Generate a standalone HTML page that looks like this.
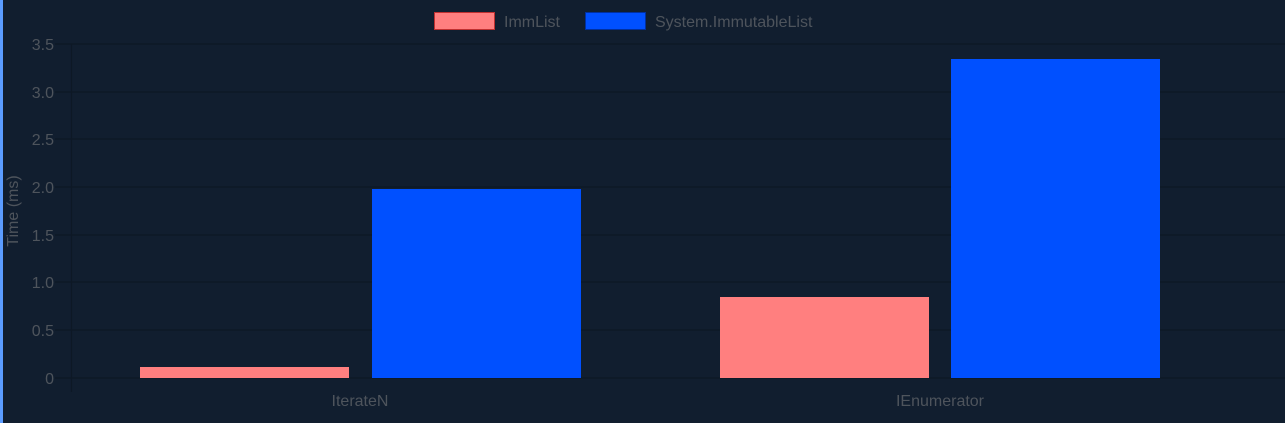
<!DOCTYPE html>
<html><head><style>
html,body{margin:0;padding:0;background:#111e2f;}
svg{display:block}
text{font-family:"Liberation Sans",sans-serif;fill:#4e545c;font-size:16px}
</style></head><body>
<svg width="1285" height="423" viewBox="0 0 1285 423">
<rect width="1285" height="423" fill="#111e2f"/>
<rect x="0" y="0" width="3" height="423" fill="#5b9cff"/>
<g stroke="#0d1825" stroke-width="1.2">
<line x1="55" y1="44" x2="1285" y2="44"/>
<line x1="55" y1="92" x2="1285" y2="92"/>
<line x1="55" y1="139" x2="1285" y2="139"/>
<line x1="55" y1="187" x2="1285" y2="187"/>
<line x1="55" y1="235" x2="1285" y2="235"/>
<line x1="55" y1="282" x2="1285" y2="282"/>
<line x1="55" y1="330" x2="1285" y2="330"/>
<line x1="55" y1="378" x2="1285" y2="378"/>
<line x1="71.5" y1="44" x2="71.5" y2="392"/>
</g>
<g text-anchor="end">
<text x="54" y="50">3.5</text>
<text x="54" y="98">3.0</text>
<text x="54" y="145">2.5</text>
<text x="54" y="193">2.0</text>
<text x="54" y="241">1.5</text>
<text x="54" y="288">1.0</text>
<text x="54" y="336">0.5</text>
<text x="54" y="384">0</text>
</g>
<text transform="translate(18,211) rotate(-90)" text-anchor="middle">Time (ms)</text>
<rect x="140" y="367" width="209" height="11" fill="#ff7f7f"/>
<rect x="372" y="189" width="209" height="189" fill="#0050ff"/>
<rect x="720" y="297" width="209" height="81" fill="#ff7f7f"/>
<rect x="951" y="59" width="209" height="319" fill="#0050ff"/>
<text x="360" y="406" text-anchor="middle">IterateN</text>
<text x="940" y="406" text-anchor="middle">IEnumerator</text>
<rect x="434.5" y="12.5" width="60" height="17" fill="#ff7f7f" stroke="#c03030" stroke-width="1"/>
<text x="504" y="27">ImmList</text>
<rect x="585.5" y="12.5" width="60" height="17" fill="#0050ff" stroke="#0030a0" stroke-width="1"/>
<text x="655" y="27">System.ImmutableList</text>
</svg>
</body></html>
